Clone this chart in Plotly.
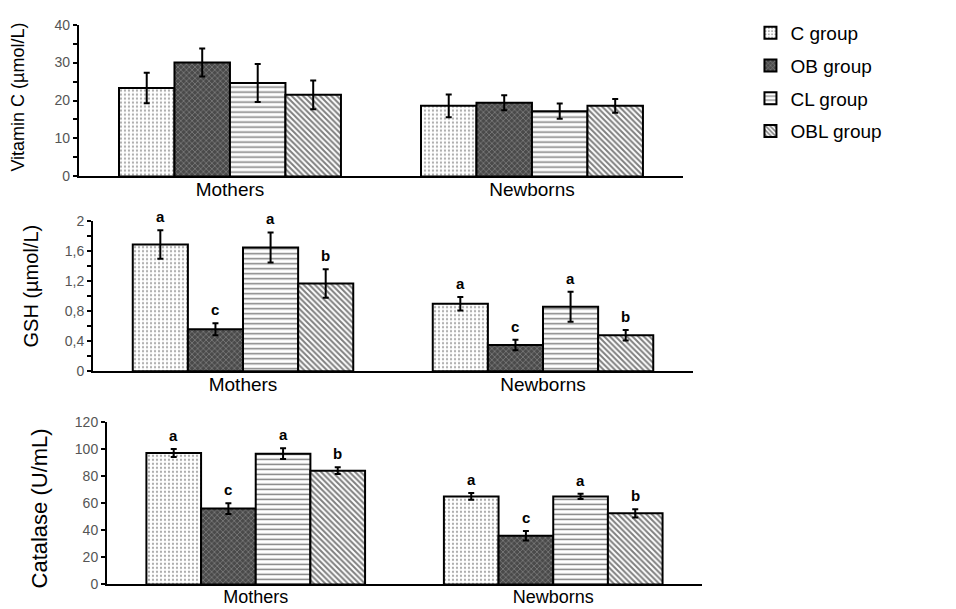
import plotly.graph_objects as go

categories = ["Mothers", "Newborns"]
groups = ["C group", "OB group", "CL group", "OBL group"]

vitc_vals = [[23.3, 18.6], [30.0, 19.4], [24.6, 17.2], [21.5, 18.6]]
vitc_err = [[4.0, 3.0], [3.7, 2.0], [5.0, 2.0], [3.8, 1.8]]

gsh_vals = [[1.69, 0.90], [0.56, 0.35], [1.65, 0.86], [1.17, 0.48]]
gsh_err = [[0.19, 0.09], [0.08, 0.07], [0.20, 0.20], [0.19, 0.07]]
gsh_letters = [["a", "a"], ["c", "c"], ["a", "a"], ["b", "b"]]

cat_vals = [[97.0, 65.0], [56.0, 36.0], [96.5, 65.0], [84.0, 52.5]]
cat_err = [[3.0, 2.5], [4.0, 3.5], [4.0, 2.0], [2.5, 3.0]]
cat_letters = [["a", "a"], ["c", "c"], ["a", "a"], ["b", "b"]]

styles = [
    dict(color="white", pattern=dict(shape=".", fgcolor="#555555", bgcolor="white", size=4, solidity=0.25)),
    dict(color="#4a4a4a", pattern=dict(shape="x", fgcolor="#c8c8c8", bgcolor="#4a4a4a", size=4, solidity=0.3)),
    dict(color="white", pattern=dict(shape="-", fgcolor="black", bgcolor="white", size=5, solidity=0.3)),
    dict(color="white", pattern=dict(shape="\\", fgcolor="black", bgcolor="white", size=4, solidity=0.5)),
]

BARGAP = 0.265
xpos = list(range(len(categories)))
FONT = "Liberation Sans, Arial, sans-serif"

fig = go.Figure()

panels = [
    ("", vitc_vals, vitc_err, None),
    ("2", gsh_vals, gsh_err, gsh_letters),
    ("3", cat_vals, cat_err, cat_letters),
]

for pi, (suffix, vals, errs, letters) in enumerate(panels):
    for gi, g in enumerate(groups):
        st = styles[gi]
        fig.add_trace(go.Bar(
            x=xpos, y=vals[gi], name=g,
            legendgroup=g, showlegend=(pi == 0),
            marker=dict(color=st["color"], pattern=st["pattern"],
                        line=dict(color="black", width=2)),
            error_y=dict(type="data", array=errs[gi], color="black", thickness=2, width=3),
            xaxis="x" + suffix, yaxis="y" + suffix,
        ))
        if letters:
            w = (1 - BARGAP) / len(groups)
            for ci, xc in enumerate(xpos):
                fig.add_annotation(
                    x=xc + (gi - 1.5) * w, y=vals[gi][ci] + errs[gi][ci],
                    xref="x" + suffix, yref="y" + suffix,
                    text="<b>" + letters[gi][ci] + "</b>", showarrow=False,
                    yanchor="bottom", yshift=3,
                    font=dict(family=FONT, size=15, color="black"),
                )

def xax(domain, anchor, size):
    return dict(domain=domain, anchor=anchor, range=[-0.5, 1.5], tickvals=xpos, ticktext=categories,
                showline=True, linecolor="black", linewidth=2, ticks="", ticklabelstandoff=-5,
                tickfont=dict(family=FONT, size=size, color="black"), showgrid=False, zeroline=False)

ycommon = dict(showline=True, linecolor="black", linewidth=2, ticks="outside", ticklen=4,
               tickcolor="black", tickwidth=2, showgrid=False, zeroline=False,
               tickfont=dict(family=FONT, size=14, color="#555555"))

fig.update_layout(
    width=956, height=609, margin=dict(l=0, r=0, t=0, b=0),
    plot_bgcolor="white", paper_bgcolor="white",
    barmode="group", bargap=BARGAP, bargroupgap=0,
    separators=",.",
    font=dict(family=FONT, color="black"),
    xaxis=xax([0.0826, 0.7144], "y", 19),
    yaxis=dict(domain=[0.716, 0.972], anchor="x", range=[0, 40], dtick=10,
               minor=dict(dtick=5, ticks="outside", ticklen=4, tickcolor="black", tickwidth=2), **ycommon),
    xaxis2=xax([0.0973, 0.7249], "y2", 19),
    yaxis2=dict(domain=[0.3875, 0.6404], anchor="x2", range=[0, 2], dtick=0.4, tickformat=".1~f",
                minor=dict(dtick=0.2, ticks="outside", ticklen=4, tickcolor="black", tickwidth=2), **ycommon),
    xaxis3=xax([0.1119, 0.7343], "y3", 18),
    yaxis3=dict(domain=[0.0279, 0.3021], anchor="x3", range=[0, 120], dtick=20, **ycommon),
    legend=dict(x=0.785, y=0.99, xanchor="left", yanchor="top",
                font=dict(family=FONT, size=19, color="black"),
                tracegroupgap=5, itemsizing="constant", bgcolor="rgba(0,0,0,0)"),
)

# y-axis titles
for txt, xp, yp, sz in [
    ("Vitamin C (µmol/L)", 18, 92, 18),
    ("GSH (µmol/L)", 31, 286, 20),
    ("Catalase (U/mL)", 39, 514, 22),
]:
    fig.add_annotation(x=xp / 956, y=1 - yp / 609, xref="paper", yref="paper",
                       text=txt, textangle=-90, showarrow=False,
                       xanchor="center", yanchor="middle",
                       font=dict(family=FONT, size=sz, color="black"))

fig.write_html("out.html", config={"displayModeBar": False},
               post_script="document.body.style.margin='0';document.body.style.overflow='hidden';")
